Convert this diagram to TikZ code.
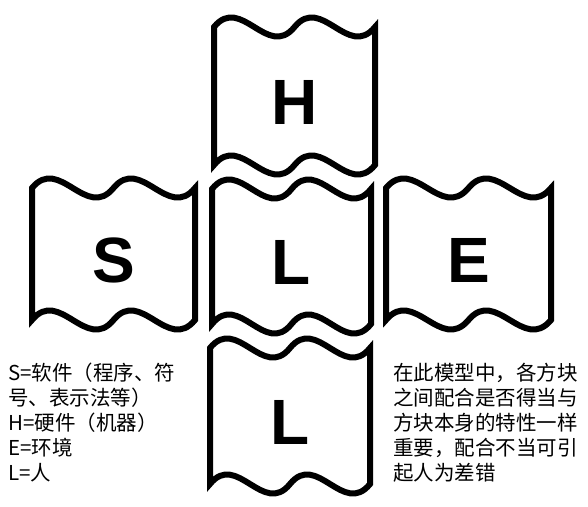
\documentclass[tikz,border=0pt]{standalone}
\usepackage{fontspec}
\setmainfont{Liberation Sans}
\newfontfamily\cjk{Noto Sans CJK SC}
\tikzset{
  wave/.style={draw=black, line width=6pt, fill=white, line join=miter},
  letter/.style={font=\fontsize{64}{64}\selectfont\bfseries, inner sep=0pt},
  caption/.style={font=\cjk\fontsize{20.5}{25}\selectfont, align=left, inner sep=0pt, anchor=north west},
}
\newcommand\wk{33}
\newcommand\wavebox[6]{%
  \pgfmathsetmacro\wxa{#1}%
  \pgfmathsetmacro\wP{(#2-#1)/2}%
  \pgfmathsetmacro\wxb{#1+\wP/3}%
  \pgfmathsetmacro\wxc{#1+2*\wP/3}%
  \pgfmathsetmacro\wxd{#1+\wP}%
  \pgfmathsetmacro\wxe{#1+4*\wP/3}%
  \pgfmathsetmacro\wxf{#1+5*\wP/3}%
  \pgfmathsetmacro\wxg{#2}%
  \pgfmathsetmacro\wtu{#3-\wk}%
  \pgfmathsetmacro\wtd{#3+\wk}%
  \pgfmathsetmacro\wbu{#4-\wk}%
  \pgfmathsetmacro\wbd{#4+\wk}%
  \draw[wave] (\wxa,#3) .. controls (\wxb,\wtu) and (\wxc,\wtd) .. (\wxd,#3)
     .. controls (\wxe,\wtu) and (\wxf,\wtd) .. (\wxg,#3)
     -- (\wxg,#4)
     .. controls (\wxf,\wbd) and (\wxe,\wbu) .. (\wxd,#4)
     .. controls (\wxc,\wbd) and (\wxb,\wbu) .. (\wxa,#4) -- cycle;
  \node[letter] (#5) at ({(#1+#2)/2},{(#3+#4)/2+6}) {#6};
}
\begin{document}
\begin{tikzpicture}[x=1pt,y=-1pt]
\useasboundingbox (0,0) rectangle (588,506);
\fill[white] (0,0) rectangle (588,506);
\wavebox{214}{375}{27}{165}{H}{H}
\wavebox{212}{371}{189}{324}{Lm}{L}
\wavebox{32}{195}{188}{320}{S}{S}
\wavebox{386}{551}{188}{320}{E}{E}
\wavebox{210}{370}{348}{484}{Lb}{L}
\node[caption] (legend) at (8,363) {S=软件（程序、符\\号、表示法等）\\H=硬件（机器）\\E=环境\\L=人};
\node[caption] (note) at (393,363) {在此模型中，各方块\\之间配合是否得当与\\方块本身的特性一样\\重要，配合不当可引\\起人为差错};
\end{tikzpicture}
\end{document}
